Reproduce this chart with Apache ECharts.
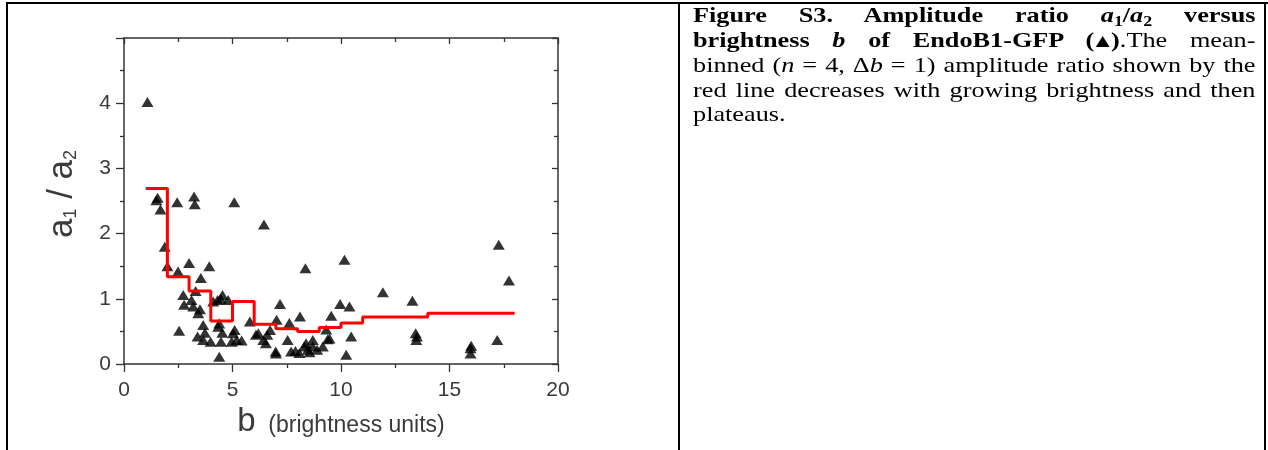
<!DOCTYPE html>
<html><head><meta charset="utf-8">
<script src="https://cdn.jsdelivr.net/npm/echarts@6/dist/echarts.min.js"></script>
<style>
html,body{margin:0;padding:0;background:#fff;}
#wrap{position:relative;width:1268px;height:450px;overflow:hidden;background:#fff;}
#chart{position:absolute;left:0;top:0;width:1268px;height:450px;}
.bd{position:absolute;background:#000;}
#cap{position:absolute;left:693px;top:3px;width:450px;transform:scaleX(1.25);transform-origin:0 0;font-family:'Liberation Serif','Times New Roman',serif;font-size:21px;line-height:24.5px;color:#000;}
#cap .ln{text-align:justify;text-align-last:justify;}
#cap .last{text-align:left;}
#cap sub{font-size:0.68em;vertical-align:-0.25em;line-height:0;}
#cap .tri{display:inline-block;margin:0 -0.14em;font-size:0.9em;}
</style>
</head><body>
<div id="wrap">
<div id="chart"></div>
<div class="bd" style="left:6px;top:2px;width:1262px;height:2px"></div>
<div class="bd" style="left:6px;top:2px;width:2px;height:448px"></div>
<div class="bd" style="left:678px;top:2px;width:2px;height:448px"></div>
<div class="bd" style="left:1264px;top:2px;width:2px;height:448px"></div>
<div id="cap">
<div class="ln"><b>Figure S3. Amplitude ratio <i>a</i><sub>1</sub>/<i>a</i><sub>2</sub> versus</b></div>
<div class="ln"><b>brightness <i>b</i> of EndoB1-GFP (<span class="tri">▲</span>)</b>.The mean-</div>
<div class="ln">binned (<i>n</i> = 4, Δ<i>b</i> = 1) amplitude ratio shown by the</div>
<div class="ln">red line decreases with growing brightness and then</div>
<div class="last">plateaus.</div>
</div>
</div>
<script>
// ---- data ----
const bValues = [
  1.08,
  1.49,1.68,1.55,
  2.45,3.23,3.26,5.08,6.45,
  1.88,2.0,3.0,3.93,2.49,3.54,
  2.73,2.77,3.11,3.19,3.42,3.3,3.5,
  3.65,3.73,3.65,3.99,3.39,2.54,
  4.54,4.31,4.8,4.11,4.45,
  4.34,4.53,4.47,4.39,4.39,
  5.03,5.19,5.42,4.96,5.1,
  5.8,6.19,6.42,6.08,6.54,6.73,6.6,
  7.03,7.19,6.99,7.0,
  8.36,10.16,11.93,13.29,
  9.96,10.39,8.11,9.55,7.62,9.32,
  7.54,9.39,10.47,8.39,8.7,8.47,9.16,7.7,8.08,10.24,8.7,8.31,8.55,8.9,9.47,7.9,
  13.44,13.47,13.5,
  17.27,17.74,17.2,15.97,15.97,16.0
];
const ratioValues = [
  4.02,
  2.51,2.37,2.55,
  2.48,2.57,2.45,2.48,2.14,
  1.80,1.50,1.55,1.50,1.42,1.32,
  1.06,0.91,0.98,0.88,0.78,1.12,0.84,
  0.60,0.48,0.37,0.34,0.42,0.51,
  1.06,0.98,0.98,0.96,1.00,
  0.57,0.48,0.34,0.62,0.11,
  0.47,0.37,0.36,0.34,0.52,
  0.65,0.47,0.37,0.45,0.32,0.52,0.45,
  0.68,0.92,0.19,0.16,
  1.47,1.60,1.10,0.97,
  0.92,0.88,0.73,0.74,0.63,0.53,
  0.37,0.38,0.42,0.32,0.27,0.22,0.27,0.19,0.17,0.14,0.37,0.27,0.18,0.22,0.39,0.20,
  0.47,0.37,0.42,
  1.83,1.28,0.37,0.24,0.16,0.28
];
const binEdges = [1,2,3,4,5,6,7,8,9,10,11,14,18];
const binMeans = [2.69,1.34,1.12,0.66,0.96,0.61,0.54,0.50,0.56,0.63,0.72,0.78,0.78];
const xTicks = [0,5,10,15,20];
const yTicks = [0,1,2,3,4];

// ---- chart ----
const chart = echarts.init(document.getElementById('chart'), null, {renderer:'canvas'});
const axisColor = '#333';
const txtColor = '#3a3a3a';
const sans = "'Liberation Sans', Arial, sans-serif";
const lineStyle = {color:axisColor, width:1.5};
const tickStyle = {color:axisColor, width:1.3};

const option = {
  animation:false,
  backgroundColor:'transparent',
  grid:{left:124, right:710, top:38, bottom:86},
  xAxis:[{
    type:'value', position:'bottom', min:0, max:20, interval:5,
    axisLine:{show:true, onZero:false, lineStyle:lineStyle},
    axisTick:{show:true, length:8, lineStyle:tickStyle},
    minorTick:{show:true, splitNumber:2, length:4, lineStyle:tickStyle},
    splitLine:{show:false},
    axisLabel:{margin:16, fontSize:21, color:txtColor, fontFamily:sans,
      formatter:v => xTicks.includes(v) ? String(v) : ''},
    name:'{b|b}{u|  (brightness units)}', nameLocation:'middle', nameGap:40,
    nameTextStyle:{rich:{
      b:{fontSize:33, fontFamily:sans, color:txtColor, verticalAlign:'bottom'},
      u:{fontSize:23, fontFamily:sans, color:txtColor, verticalAlign:'bottom', padding:[0,0,2,0]}
    }}
  },{
    type:'value', position:'top', min:0, max:20, interval:5,
    axisLine:{show:true, onZero:false, lineStyle:lineStyle},
    axisTick:{show:true, inside:true, length:6, lineStyle:tickStyle},
    minorTick:{show:true, splitNumber:2, length:4, lineStyle:tickStyle},
    splitLine:{show:false}, axisLabel:{show:false}
  }],
  yAxis:[{
    type:'value', position:'left', min:0, max:5, interval:1,
    axisLine:{show:true, onZero:false, lineStyle:lineStyle},
    axisTick:{show:true, length:8, lineStyle:tickStyle},
    minorTick:{show:true, splitNumber:2, length:4, lineStyle:tickStyle},
    splitLine:{show:false},
    axisLabel:{margin:13, fontSize:21, color:txtColor, fontFamily:sans,
      formatter:v => yTicks.includes(v) ? String(v) : ''},
    name:'{a|a}{s|1}{a| / a}{s|2}', nameLocation:'middle', nameGap:44,
    nameTextStyle:{padding:[0,0,0,14], rich:{
      a:{fontSize:35, lineHeight:36, fontFamily:sans, color:txtColor, verticalAlign:'bottom'},
      s:{fontSize:18, lineHeight:12, fontFamily:sans, color:txtColor, verticalAlign:'bottom'}
    }}
  },{
    type:'value', position:'right', min:0, max:5, interval:1,
    axisLine:{show:true, onZero:false, lineStyle:lineStyle},
    axisTick:{show:true, inside:true, length:6, lineStyle:tickStyle},
    minorTick:{show:true, splitNumber:2, length:4, lineStyle:tickStyle},
    splitLine:{show:false}, axisLabel:{show:false}
  }],
  series:[{
    type:'scatter', xAxisIndex:0, yAxisIndex:0,
    data:bValues.map((b,i)=>[b, ratioValues[i]]),
    symbol:'triangle', symbolSize:[12,10],
    itemStyle:{color:'#000'}, z:2
  },{
    type:'line', xAxisIndex:0, yAxisIndex:0, step:'end',
    data:binEdges.map((b,i)=>[b, binMeans[i]]),
    symbol:'none', showSymbol:false,
    lineStyle:{color:'#ff0000', width:3}, z:3
  }]
};
chart.setOption(option);
</script>
</body></html>
